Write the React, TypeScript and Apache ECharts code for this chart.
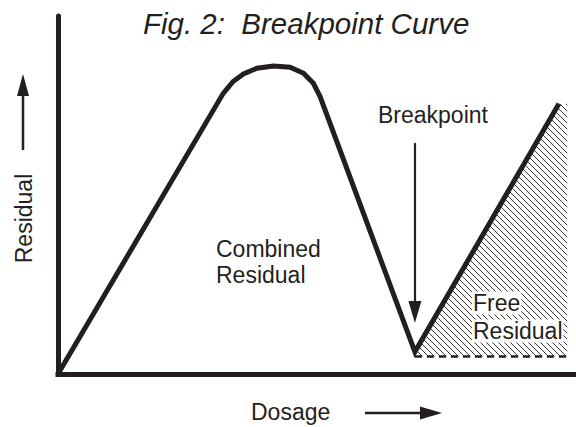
import React, { useEffect, useRef } from 'react';
import * as echarts from 'echarts';

// Breakpoint curve (dosage vs residual), arbitrary units 0..100
const curveDosage = [0, 31.9, 33.8, 35.8, 38.4, 41.6, 44.8, 47.4, 49.3, 50.6, 68.9, 96.7];
const curveResidual = [0, 78.4, 81.7, 83.8, 85.4, 86.0, 85.7, 84.0, 81.2, 77.5, 6.2, 75.5];

const baselineResidual = 4.9; // dashed free-residual baseline
const breakpointDosage = 68.9;
const freeResidualEndDosage = 98.3;
const breakpointArrowTop = 64.5;
const breakpointArrowEnd = 17.3;

const titleText = 'Fig. 2:  Breakpoint Curve';
const xAxisName = 'Dosage';
const yAxisName = 'Residual';
const breakpointLabel = 'Breakpoint';
const combinedLabel = 'Combined\nResidual';
const freeLabelLines = ['Free', 'Residual'];

const DARK = '#231f20';
const FONT = '"Liberation Sans", Arial, Helvetica, sans-serif';

const hatchSvg =
  "<svg xmlns='http://www.w3.org/2000/svg' width='6' height='6'>" +
  "<path d='M-1,-1L7,7M-1,5L1,7M5,-1L7,1' stroke='#231f20' stroke-width='0.9' fill='none'/></svg>";
const hatchUrl = 'data:image/svg+xml;charset=utf-8,' + encodeURIComponent(hatchSvg);

export default function App() {
  const ref = useRef<HTMLDivElement>(null);

  useEffect(() => {
    document.body.style.margin = '0';
    const chart = echarts.init(ref.current as HTMLDivElement, null, { renderer: 'svg' });

    const curve = curveDosage.map((x, i) => [x, curveResidual[i]]);
    const last = curveDosage.length - 1;
    const hatch = [
      [breakpointDosage, baselineResidual],
      [curveDosage[last], curveResidual[last]],
      [freeResidualEndDosage, curveResidual[last]],
      [freeResidualEndDosage, baselineResidual],
    ];

    const textStyle = (size: number, italic = false) => ({
      fill: DARK,
      fontSize: size,
      fontFamily: FONT,
      fontStyle: italic ? 'italic' : 'normal',
    });

    chart.setOption({
      animation: false,
      backgroundColor: '#ffffff',
      grid: { left: 58, right: 0, top: 16, bottom: 53, containLabel: false },
      xAxis: {
        type: 'value',
        min: 0,
        max: 100,
        axisLine: { show: true, lineStyle: { color: DARK, width: 5, cap: 'square' } },
        axisTick: { show: false },
        axisLabel: { show: false },
        splitLine: { show: false },
      },
      yAxis: {
        type: 'value',
        min: 0,
        max: 100,
        axisLine: { show: true, lineStyle: { color: DARK, width: 5 } },
        axisTick: { show: false },
        axisLabel: { show: false },
        splitLine: { show: false },
      },
      series: [
        {
          type: 'custom',
          z: 1,
          clip: false,
          silent: true,
          data: hatch,
          renderItem: (params: any, api: any) => {
            if (params.dataIndex !== 0) return null;
            const pts = hatch.map((p) => api.coord(p));
            return {
              type: 'polygon',
              shape: { points: pts },
              style: {
                fill: { image: hatchUrl, repeat: 'repeat', imageWidth: 6, imageHeight: 6 },
                stroke: 'none',
              },
            };
          },
        },
        {
          type: 'line',
          z: 2,
          silent: true,
          symbol: 'none',
          data: [
            [breakpointDosage, baselineResidual],
            [freeResidualEndDosage, baselineResidual],
          ],
          lineStyle: { color: DARK, width: 2.5, type: [7, 5] },
        },
        {
          type: 'line',
          z: 3,
          silent: true,
          symbol: 'none',
          data: curve,
          lineStyle: { color: DARK, width: 5, join: 'miter', cap: 'butt' },
          markLine: {
            silent: true,
            symbol: ['none', 'triangle'],
            symbolSize: [13, 22],
            label: { show: false },
            lineStyle: { color: DARK, width: 2.2, type: 'solid' },
            data: [
              [
                { coord: [breakpointDosage, breakpointArrowTop] },
                { coord: [breakpointDosage, breakpointArrowEnd] },
              ],
            ],
          },
        },
      ],
      graphic: [
        {
          type: 'text',
          x: 143,
          y: 23,
          style: { ...textStyle(29.5, true), text: titleText, textAlign: 'left', textVerticalAlign: 'middle' },
        },
        {
          type: 'text',
          x: 378,
          y: 114.5,
          style: { ...textStyle(23), text: breakpointLabel, textAlign: 'left', textVerticalAlign: 'middle' },
        },
        {
          type: 'text',
          x: 216,
          y: 262,
          style: {
            ...textStyle(23),
            text: combinedLabel,
            lineHeight: 26,
            textAlign: 'left',
            textVerticalAlign: 'middle',
          },
        },
        {
          type: 'text',
          x: 472,
          y: 303,
          z: 10,
          style: {
            ...textStyle(23),
            text: freeLabelLines[0],
            textAlign: 'left',
            textVerticalAlign: 'middle',
            backgroundColor: '#ffffff',
            padding: [0, 1],
          },
        },
        {
          type: 'text',
          x: 472,
          y: 331,
          z: 10,
          style: {
            ...textStyle(23),
            text: freeLabelLines[1],
            textAlign: 'left',
            textVerticalAlign: 'middle',
            backgroundColor: '#ffffff',
            padding: [0, 1],
          },
        },
        {
          type: 'text',
          x: 251,
          y: 412,
          style: { ...textStyle(23), text: xAxisName, textAlign: 'left', textVerticalAlign: 'middle' },
        },
        {
          type: 'text',
          x: 23.5,
          y: 218.5,
          rotation: Math.PI / 2,
          style: { ...textStyle(23), text: yAxisName, textAlign: 'center', textVerticalAlign: 'middle' },
        },
        // Residual arrow (up)
        {
          type: 'line',
          shape: { x1: 23, y1: 150, x2: 23, y2: 92 },
          style: { stroke: DARK, lineWidth: 2.5 },
        },
        {
          type: 'polygon',
          shape: { points: [[17, 96], [29, 96], [23, 74]] },
          style: { fill: DARK },
        },
        // Dosage arrow (right)
        {
          type: 'line',
          shape: { x1: 365, y1: 413, x2: 424, y2: 413 },
          style: { stroke: DARK, lineWidth: 2.5 },
        },
        {
          type: 'polygon',
          shape: { points: [[420, 406.5], [420, 419.5], [442, 413]] },
          style: { fill: DARK },
        },
      ],
    });

    return () => chart.dispose();
  }, []);

  return <div ref={ref} style={{ width: 576, height: 427 }} />;
}
